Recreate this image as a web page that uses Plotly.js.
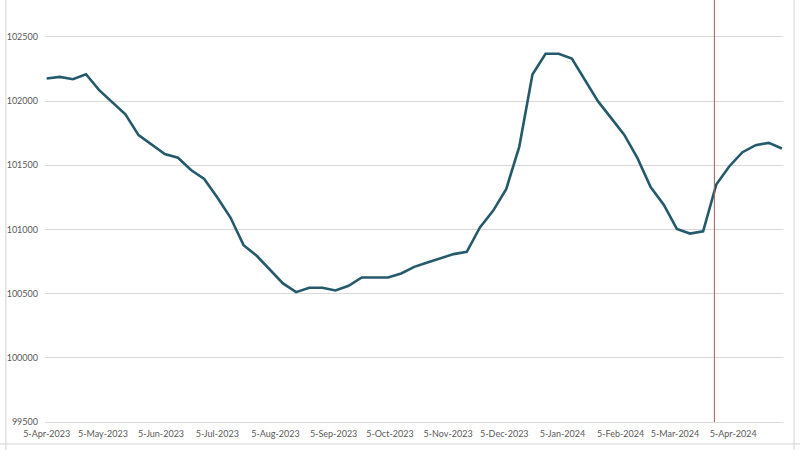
<!DOCTYPE html>
<html>
<head>
<meta charset="utf-8">
<script src="https://cdn.plot.ly/plotly-3.0.1.min.js"></script>
<style>html,body{margin:0;padding:0;background:#fff;}#chart{width:800px;height:450px;}</style>
</head>
<body>
<div id="chart"></div>
<script>
const dates = [
  "2023-04-05","2023-04-12","2023-04-19","2023-04-26",
  "2023-05-03","2023-05-10","2023-05-17","2023-05-24","2023-05-31",
  "2023-06-07","2023-06-14","2023-06-21","2023-06-28",
  "2023-07-05","2023-07-12","2023-07-19","2023-07-26",
  "2023-08-02","2023-08-09","2023-08-16","2023-08-23","2023-08-30",
  "2023-09-06","2023-09-13","2023-09-20","2023-09-27",
  "2023-10-04","2023-10-11","2023-10-18","2023-10-25",
  "2023-11-01","2023-11-08","2023-11-15","2023-11-22","2023-11-29",
  "2023-12-06","2023-12-13","2023-12-20","2023-12-27",
  "2024-01-03","2024-01-10","2024-01-17","2024-01-24","2024-01-31",
  "2024-02-07","2024-02-14","2024-02-21","2024-02-28",
  "2024-03-06","2024-03-13","2024-03-20","2024-03-27",
  "2024-04-03","2024-04-10","2024-04-17","2024-04-24",
  "2024-05-01"
];
const values = [
  102177,102189,102171,102210,
  102086,101995,101897,101735,101658,
  101588,101559,101463,101393,
  101249,101093,100878,100795,
  100686,100580,100512,100546,100546,
  100525,100561,100626,100626,
  100626,100657,100709,100743,
  100774,100808,100826,101016,101145,
  101314,101646,102208,102369,
  102369,102331,102162,101998,101868,
  101737,101556,101330,101193,
  101004,100968,100986,101350,
  101493,101602,101657,101675,
  101631
];
const tickDates = ["2023-04-05","2023-05-05","2023-06-05","2023-07-05","2023-08-05","2023-09-05",
  "2023-10-05","2023-11-05","2023-12-05","2024-01-05","2024-02-05","2024-03-05","2024-04-05"];
const tickLabels = ["5-Apr-2023","5-May-2023","5-Jun-2023","5-Jul-2023","5-Aug-2023","5-Sep-2023",
  "5-Oct-2023","5-Nov-2023","5-Dec-2023","5-Jan-2024","5-Feb-2024","5-Mar-2024","5-Apr-2024"];
const yTicks = [99500,100000,100500,101000,101500,102000,102500];
const markerDate = "2024-03-26";

const trace = {
  x: dates, y: values, type: "scatter", mode: "lines",
  line: {color: "#245a6b", width: 2.6},
  hoverinfo: "skip"
};

const layout = {
  width: 800, height: 450,
  margin: {l: 45, r: 17, t: 0, b: 28},
  paper_bgcolor: "#ffffff", plot_bgcolor: "#ffffff",
  showlegend: false,
  font: {family: "Lato, 'Open Sans', sans-serif", color: "#595959", size: 9},
  xaxis: {
    type: "date",
    range: ["2023-04-04 03:00", "2024-05-01 14:00"],
    tickvals: tickDates, ticktext: tickLabels,
    showgrid: false, zeroline: false,
    showline: true, linecolor: "#d9d9d9", linewidth: 1,
    ticks: "", ticklabelstandoff: 3,
    tickfont: {size: 9, color: "#595959"}
  },
  yaxis: {
    range: [99500, 102788],
    tickvals: yTicks, ticktext: yTicks.map(String),
    showgrid: true, gridcolor: "#d9d9d9", gridwidth: 1,
    zeroline: false, showline: false, ticks: "",
    ticklabelstandoff: 6,
    tickfont: {size: 9, color: "#595959"}
  },
  shapes: [
    {type: "line", xref: "x", yref: "paper", x0: markerDate, x1: markerDate, y0: 0, y1: 1,
     line: {color: "#a85a5c", width: 1}},
    {type: "line", xref: "paper", yref: "paper", x0: -0.053, x1: -0.053, y0: -0.07, y1: 1.1,
     line: {color: "#d4d4d4", width: 1}},
    {type: "line", xref: "paper", yref: "paper", x0: -0.1, x1: 1.1, y0: -0.052, y1: -0.052,
     line: {color: "#d4d4d4", width: 1}},
    {type: "line", xref: "paper", yref: "paper", x0: 1.015, x1: 1.015, y0: -0.07, y1: 1.1,
     line: {color: "#d4d4d4", width: 1}}
  ]
};

Plotly.newPlot("chart", [trace], layout, {staticPlot: true, displayModeBar: false});
</script>
</body>
</html>
